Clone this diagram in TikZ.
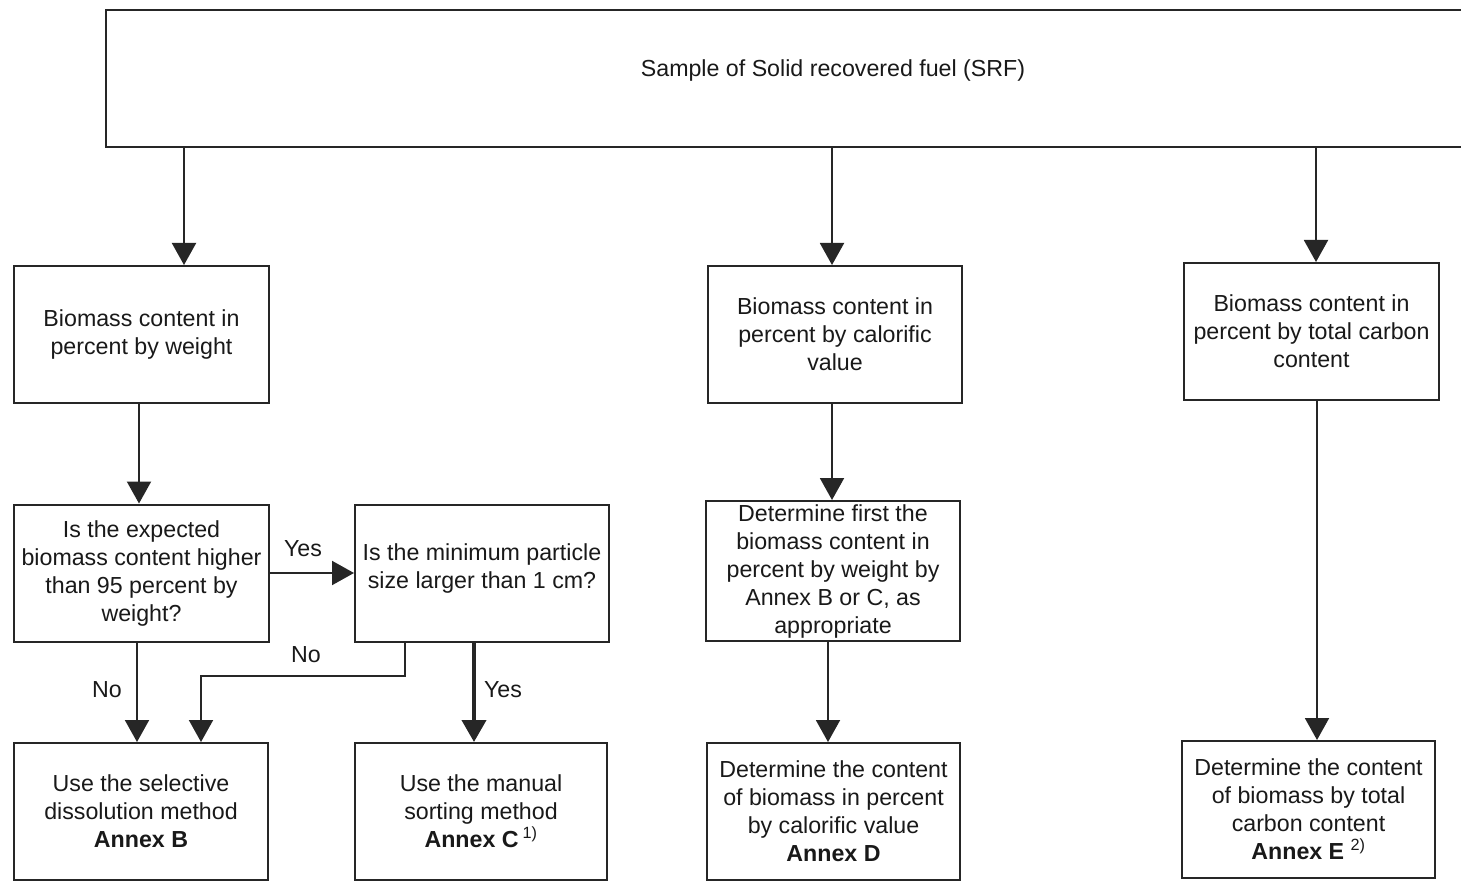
\documentclass[tikz,border=0pt]{standalone}
\usepackage{fontspec}
\setmainfont{Liberation Sans}
\usetikzlibrary{arrows.meta}
\tikzset{
  box/.style={draw=black!85, line width=2pt, minimum width=255pt, minimum height=137pt, inner sep=0pt, align=center, font=\fontsize{23.2}{28}\selectfont, text=black!90},
  txt/.style={inner sep=0pt, align=center, font=\fontsize{23.2}{28}\selectfont, text=black!90},
  arr/.style={draw=black!85, line width=2pt, -{Triangle[width=24pt,length=22pt]}},
  thickarr/.style={arr, line width=4pt},
}
\begin{document}
\begin{tikzpicture}[x=1pt, y=-1pt]
\clip (0,0) rectangle (1461,885);
\fill[white] (0,0) rectangle (1461,885);
% nodes
\node[box, minimum width=1454pt, minimum height=137pt] (top) at (833,78.5) {};
\node[txt] (toptxt) at (833,71) {Sample of Solid recovered fuel (SRF)};
\node[box] (b1) at (141.5,334.5) {Biomass content in\\percent by weight};
\node[box, minimum width=254pt] (b2) at (835,334.5) {Biomass content in\\percent by calorific\\value};
\node[box] (b3) at (1311.5,331.5) {Biomass content in\\percent by total carbon\\content};
\node[box] (q1) at (141.5,573) {Is the expected\\biomass content higher\\than 95 percent by\\weight?};
\node[box, minimum width=254pt] (q2) at (482,573) {};
\node[txt] (q2txt) at (482,568) {Is the minimum particle\\size larger than 1 cm?};
\node[box, minimum width=254pt, minimum height=140pt] (d1) at (833,571) {Determine first the\\biomass content in\\percent by weight by\\Annex B or C, as\\appropriate};
\node[box, minimum width=254pt] (r1) at (141,811.5) {Use the selective\\dissolution method\\\textbf{Annex B}};
\node[box, minimum width=252pt] (r2) at (481,811.5) {Use the manual\\sorting method\\\textbf{Annex C}\,\textsuperscript{1)}};
\node[box, minimum width=253pt] (r3) at (833.5,811.5) {Determine the content\\of biomass in percent\\by calorific value\\\textbf{Annex D}};
\node[box, minimum width=253pt] (r4) at (1308.5,809.5) {Determine the content\\of biomass by total\\carbon content\\\textbf{Annex E} \textsuperscript{2)}};
% helper coordinates
\coordinate (c184) at (184,0);
\coordinate (c832) at (832,0);
\coordinate (c1316) at (1316,0);
\coordinate (c139) at (139,0);
\coordinate (c137) at (137,0);
\coordinate (c405) at (405,0);
\coordinate (c474) at (474,0);
\coordinate (c828) at (828,0);
\coordinate (c1317) at (1317,0);
\coordinate (r573) at (0,573);
\coordinate (bend) at (201,676);
% connectors
\draw[arr] (top.south -| c184) -- (b1.north -| c184);
\draw[arr] (top.south -| c832) -- (b2.north -| c832);
\draw[arr] (top.south -| c1316) -- (b3.north -| c1316);
\draw[arr] (b1.south -| c139) -- (q1.north -| c139);
\draw[arr] (q1.east |- r573) -- (q2.west |- r573);
\draw[arr] (q1.south -| c137) -- (r1.north -| c137);
\draw[arr] (q2.south -| c405) |- (bend) -- (r1.north -| bend);
\draw[thickarr] (q2.south -| c474) -- (r2.north -| c474);
\draw[arr] (b2.south -| c832) -- (d1.north -| c832);
\draw[arr] (d1.south -| c828) -- (r3.north -| c828);
\draw[arr] (b3.south -| c1317) -- (r4.north -| c1317);
% labels
\node[txt] (yes1) at (303,549) {Yes};
\node[txt] (no1) at (107,690) {No};
\node[txt] (no2) at (306,655) {No};
\node[txt] (yes2) at (503,690) {Yes};
\end{tikzpicture}
\end{document}
